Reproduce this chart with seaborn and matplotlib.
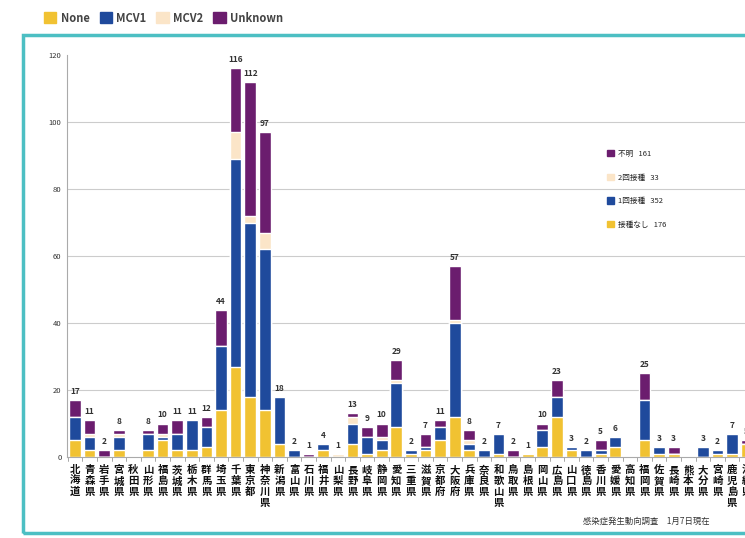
import matplotlib.pyplot as plt
import matplotlib.patches as mpatches
import numpy as np
import pandas as pd
import seaborn as sns

prefectures = [
    "北海道", "青森県", "岩手県", "宮城県", "秋田県", "山形県", "福島県", "茨城県",
    "栃木県", "群馬県", "埼玉県", "千葉県", "東京都", "神奈川県", "新潟県", "富山県",
    "石川県", "福井県", "山梨県", "長野県", "岐阜県", "静岡県", "愛知県", "三重県",
    "滋賀県", "京都府", "大阪府", "兵庫県", "奈良県", "和歌山県", "鳥取県", "島根県",
    "岡山県", "広島県", "山口県", "徳島県", "香川県", "愛媛県", "高知県", "福岡県",
    "佐賀県", "長崎県", "熊本県", "大分県", "宮崎県", "鹿児島県", "沖縄県",
]
none_cases = [5, 2, 0, 2, 0, 2, 5, 2, 2, 3, 14, 27, 18, 14, 4, 0, 0, 2, 0, 4, 1, 2, 9, 1,
              2, 5, 12, 2, 0, 1, 0, 1, 3, 12, 2, 0, 1, 3, 0, 5, 1, 1, 0, 0, 1, 1, 4]
mcv1_cases = [7, 4, 0, 4, 0, 5, 1, 5, 9, 6, 19, 62, 52, 48, 14, 2, 0, 2, 0, 6, 5, 3, 13, 1,
              1, 4, 28, 2, 2, 6, 0, 0, 5, 6, 1, 2, 1, 3, 0, 12, 2, 0, 0, 3, 1, 6, 0]
mcv2_cases = [0, 1, 0, 1, 0, 0, 1, 0, 0, 0, 0, 8, 2, 5, 0, 0, 0, 0, 1, 2, 0, 1, 1, 0,
              0, 0, 1, 1, 0, 0, 0, 0, 0, 0, 0, 0, 0, 0, 0, 0, 0, 0, 0, 0, 0, 0, 0]
unknown_cases = [5, 4, 2, 1, 0, 1, 3, 4, 0, 3, 11, 19, 40, 30, 0, 0, 1, 0, 0, 1, 3, 4, 6, 0,
                 4, 2, 16, 3, 0, 0, 2, 0, 2, 5, 0, 0, 3, 0, 0, 8, 0, 2, 0, 0, 0, 0, 1]

top_legend = ["None", "MCV1", "MCV2", "Unknown"]
inner_legend = ["不明", "2回接種", "1回接種", "接種なし"]
inner_counts = [161, 33, 352, 176]
y_ticks = [0, 20, 40, 60, 80, 100, 120]
source_note = "感染症発生動向調査　1月7日現在"

colors = {"none": "#f1c232", "mcv1": "#1f4a9c", "mcv2": "#fbe5c8", "unknown": "#6b1d6e"}

df = pd.DataFrame({
    "pref": prefectures,
    "none": none_cases,
    "mcv1": mcv1_cases,
    "mcv2": mcv2_cases,
    "unknown": unknown_cases,
})
df["c_none"] = df["none"]
df["c_mcv1"] = df["c_none"] + df["mcv1"]
df["c_mcv2"] = df["c_mcv1"] + df["mcv2"]
df["c_unknown"] = df["c_mcv2"] + df["unknown"]

sns.set_theme(style="white")
plt.rcParams["font.family"] = ["Noto Sans CJK JP", "DejaVu Sans"]

fig = plt.figure(figsize=(7.45, 5.38), dpi=100)
ax = fig.add_axes([67 / 745, 81 / 538, 687 / 745, 402 / 538])

# stacked bars: draw cumulative totals from top layer down
for key in ["unknown", "mcv2", "mcv1", "none"]:
    sns.barplot(data=df, x="pref", y="c_" + key, color=colors[key], width=0.8,
                saturation=1, ax=ax, order=prefectures)

totals = df["c_unknown"].values
for i, t in enumerate(totals):
    if t > 0:
        ax.text(i, t + 1.2, str(t), ha="center", va="bottom", fontsize=6,
                color="#333333", fontweight="bold")

ax.set_xlim(-0.55, 46.5)
ax.set_ylim(0, 120)
ax.set_yticks(y_ticks)
ax.set_yticklabels([str(v) for v in y_ticks], fontsize=5.5, color="#333333")
ax.tick_params(axis="y", length=0, pad=4)
ax.set_xticks(np.arange(len(prefectures)))
ax.set_xticklabels(["\n".join(p) for p in prefectures], fontsize=7.5, fontweight="bold",
                   linespacing=1.1, color="#111111", va="top")
ax.tick_params(axis="x", length=0, pad=6)
for x in np.arange(-0.5, len(prefectures), 1.0):
    ax.plot([x, x], [0, -1.2], color="#999999", lw=0.6, clip_on=False)
for y in y_ticks[1:-1]:
    ax.axhline(y, color="#cccccc", lw=0.8, zorder=0)
ax.set_xlabel("")
ax.set_ylabel("")
for s in ["top", "right"]:
    ax.spines[s].set_visible(False)
ax.spines["left"].set_color("#aaaaaa")
ax.spines["bottom"].set_color("#aaaaaa")
ax.spines["left"].set_linewidth(0.8)
ax.spines["bottom"].set_linewidth(0.8)

# legend inside the plot
inner_colors = [colors["unknown"], colors["mcv2"], colors["mcv1"], colors["none"]]
handles = [mpatches.Patch(color=c) for c in inner_colors]
labels = [f"{n}   {c}" for n, c in zip(inner_legend, inner_counts)]
ax.legend(handles, labels, loc="upper left", bbox_to_anchor=(600 / 745, 1 - 143 / 538),
          bbox_transform=fig.transFigure, frameon=False, fontsize=5.5,
          handlelength=0.9, handleheight=0.9, labelspacing=2.05, handletextpad=0.6)

# legend on top
top_handles = [mpatches.Patch(color=colors[k]) for k in ["none", "mcv1", "mcv2", "unknown"]]
leg = fig.legend(top_handles, top_legend, loc="center left",
                 bbox_to_anchor=(34 / 745, 1 - 18 / 538), ncol=4, frameon=False,
                 fontsize=8, handlelength=1.1, handleheight=1.1, columnspacing=0.9,
                 handletextpad=0.4)
for t in leg.get_texts():
    t.set_color("#444444")
    t.set_fontweight("bold")

# teal frame
fig.patches.append(mpatches.Rectangle((23 / 745, 5 / 538), 760 / 745, 498 / 538,
                                      transform=fig.transFigure, fill=False,
                                      ec="#4cbfc3", lw=2.5))

fig.text(583 / 745, 1 - 521 / 538, source_note, fontsize=6, color="#333333", va="center")

fig.savefig("out.png", dpi=100)
